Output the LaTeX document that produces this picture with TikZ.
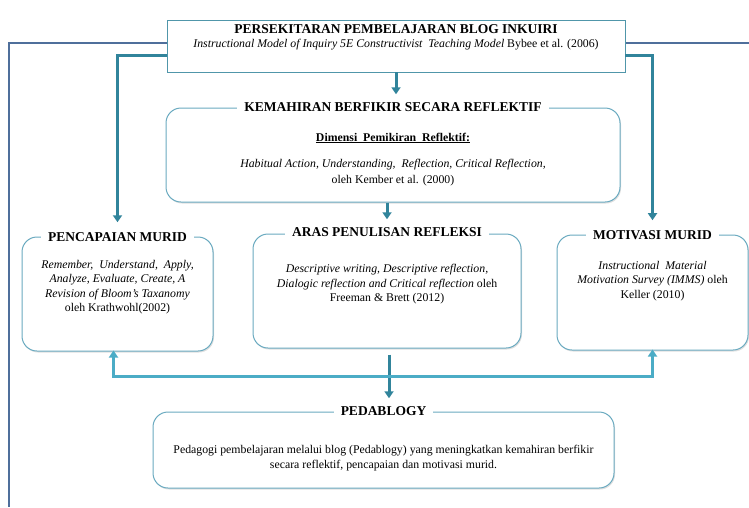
\documentclass[tikz,border=0pt]{standalone}
\usepackage{fontspec}
\setmainfont{Liberation Serif}
\usetikzlibrary{arrows.meta,positioning,shadows}

\definecolor{framebl}{HTML}{4F6F9B}
\definecolor{tealdk}{HTML}{31849B}
\definecolor{teallt}{HTML}{4BACC6}
\definecolor{boxline}{HTML}{6AAAC0}

\tikzset{
  topbox/.style={draw=tealdk!85, line width=0.9pt, fill=white, minimum width=458pt, minimum height=52pt},
  roundbox/.style={draw=boxline, line width=1pt, rounded corners=15pt, fill=white,
    drop shadow={shadow xshift=1pt, shadow yshift=-1.5pt, opacity=0.25}},
  boxtitle/.style={fill=white, inner xsep=7pt, inner ysep=2pt, font=\bfseries\fontsize{13.5}{15}\selectfont},
  boxtext/.style={align=center, font=\fontsize{11.8}{14.5}\selectfont},
  conn/.style={tealdk, line width=3pt, -{Triangle[width=9pt,length=7pt]}},
  connlt/.style={teallt, line width=3pt, -{Triangle[width=9pt,length=7pt]}}
}

\begin{document}
\begin{tikzpicture}[x=1pt, y=-1pt]
  \useasboundingbox (0,0) rectangle (749,507);

  % Outer frame
  \draw[framebl, line width=1.3pt] (749,43) -- (9,43) -- (9,507);

  % Top box
  \node[topbox] (env) at (396,46) {};
  \node[font=\bfseries\fontsize{13.5}{15}\selectfont] (envtitle) at (396,29) {PERSEKITARAN PEMBELAJARAN BLOG INKUIRI};
  \node[font=\fontsize{11.8}{14}\selectfont] (envsub) at (396,45) {\textit{Instructional Model of Inquiry 5E Constructivist\ \ Teaching Model} Bybee et al. (2006)};

  % Reflective thinking box
  \node[roundbox, minimum width=454pt, minimum height=94pt] (kem) at (393,155) {};
  \node[boxtitle] (kemtitle) at (393,107) {KEMAHIRAN BERFIKIR SECARA REFLEKTIF};
  \node[boxtext] (kemdim) at (393,138) {\underline{\textbf{Dimensi\ \ Pemikiran\ \ Reflektif:}}};
  \node[boxtext, font=\fontsize{11.8}{16}\selectfont] (kemtext) at (393,173)
    {\textit{Habitual Action, Understanding,\ \ Reflection, Critical Reflection,}\\ oleh Kember et al. (2000)};

  % Middle row
  \node[roundbox, minimum width=191pt, minimum height=114pt] (pen) at (117.5,294) {};
  \node[boxtitle] (pentitle) at (117.5,237) {PENCAPAIAN MURID};
  \node[boxtext] (pentext) at (117.5,287)
    {\textit{Remember,\ \ Understand,\ \ Apply,}\\ \textit{Analyze,\ Evaluate,\ Create,\ A}\\ \textit{Revision of Bloom's Taxanomy}\\ oleh Krathwohl(2002)};

  \node[roundbox, minimum width=268pt, minimum height=114pt] (aras) at (387,291) {};
  \node[boxtitle] (arastitle) at (387,232) {ARAS PENULISAN REFLEKSI};
  \node[boxtext] (arastext) at (387,284.5)
    {\textit{Descriptive writing, Descriptive reflection,}\\ \textit{Dialogic reflection and Critical reflection} oleh\\ Freeman \& Brett (2012)};

  \node[roundbox, minimum width=191pt, minimum height=115pt] (mot) at (652.5,292.5) {};
  \node[boxtitle] (mottitle) at (652.5,235) {MOTIVASI MURID};
  \node[boxtext] (mottext) at (652.5,281)
    {\textit{Instructional\ \ Material}\\ \textit{Motivation Survey (IMMS)} oleh\\ Keller (2010)};

  % Pedablogy box
  \node[roundbox, minimum width=461pt, minimum height=76pt] (ped) at (383.5,450) {};
  \node[boxtitle] (pedtitle) at (383.5,411) {PEDABLOGY};
  \node[boxtext, font=\fontsize{11.8}{15}\selectfont] (pedtext) at (383.5,458.5)
    {Pedagogi pembelajaran melalui blog (Pedablogy) yang meningkatkan kemahiran berfikir\\ secara reflektif, pencapaian dan motivasi murid.};

  % Connectors from the top box
  \draw[conn, shorten >=6pt] (env.south) -- (env.south |- kemtitle.north);
  \draw[conn, shorten >=8pt] ([yshift=-9pt]env.west) -| (pentitle.north);
  \draw[conn, shorten >=8pt] ([yshift=-9pt]env.east) -| (mottitle.north);
  \draw[conn, shorten >=6pt] (kem.south -| arastitle.north) -- (arastitle.north);

  % Connectors towards the bottom
  \coordinate (hub) at (389,376);
  \draw[conn, shorten <=6pt, shorten >=6pt] (aras.south -| hub) -- (pedtitle.north -| hub);
  \draw[connlt, shorten >=-1pt] (hub) -| ([xshift=-4pt]pen.south);
  \draw[connlt, shorten >=-1pt] (hub) -| (mot.south);
\end{tikzpicture}
\end{document}
